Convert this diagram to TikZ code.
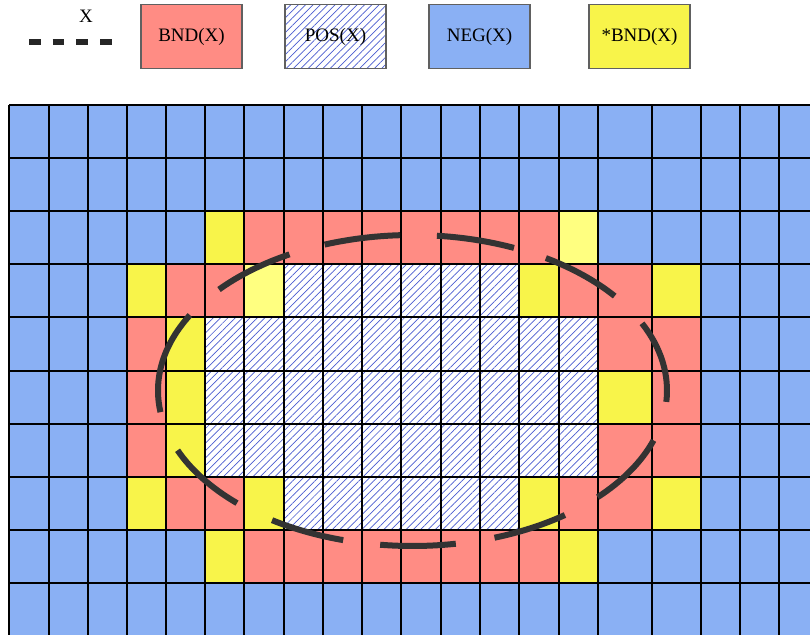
\documentclass[tikz,border=0pt]{standalone}
\usepackage{fontspec}
\setmainfont{Liberation Serif}
\usetikzlibrary{patterns.meta}
\definecolor{negblue}{HTML}{8AB0F4}
\definecolor{bndred}{HTML}{FF8C84}
\definecolor{bndyel}{HTML}{F8F44A}
\definecolor{lightyel}{HTML}{FFFF80}
\definecolor{hatchblue}{HTML}{4A5CD0}
\definecolor{boxgray}{HTML}{606060}
\def\XS{9,49,88,127,166,205,244,284,323,362,401,441,480,519,559,598,652,701,740,779,818}
\def\YS{105,158,211,264,317,371,424,477,530,583,636}
\newcommand\mycell[3]{%
  \pgfmathsetmacro\xa{{\XS}[#1]}\pgfmathsetmacro\xb{{\XS}[#1+1]}%
  \pgfmathsetmacro\ya{{\YS}[#2]}\pgfmathsetmacro\yb{{\YS}[#2+1]}%
  \path[#3] (\xa,\ya) rectangle (\xb,\yb);}
\tikzset{
  redcell/.style={fill=bndred},
  yelcell/.style={fill=bndyel},
  lyelcell/.style={fill=lightyel},
  hatchcell/.style={preaction={fill=white},pattern={Lines[angle=45,distance=5.2pt,line width=0.7pt]},pattern color=hatchblue},
  legbox/.style={draw=boxgray,line width=1.2pt,minimum width=101pt,minimum height=64pt,inner sep=0pt,font=\fontsize{19}{22}\selectfont},
  gridline/.style={line width=1.2pt,black},
  setx/.style={line width=6pt,black!80},
}
\begin{document}
\begin{tikzpicture}[x=1pt,y=-1pt]
\useasboundingbox (0,0) rectangle (810,634);
\clip (0,0) rectangle (810,634);
% legend
\node[font=\fontsize{19}{22}\selectfont] (xlab) at (86,16) {X};
\coordinate (lx1) at (29,42);
\coordinate (lx2) at (111.6,42);
\draw[line width=5.5pt,black!85,dash pattern=on 11.5pt off 12.2pt] (lx1) -- (lx2);
\node[legbox,fill=bndred] (lbnd) at (191.5,36.5) {BND(X)};
\node[legbox,hatchcell] (lpos) at (335.5,36.5) {POS(X)};
\node[legbox,fill=negblue] (lneg) at (479.5,36.5) {NEG(X)};
\node[legbox,fill=bndyel] (lsbnd) at (639.5,36.5) {*BND(X)};
% grid background
\fill[negblue] (9,105) rectangle (818,636);
% red cells
\foreach \c in {6,...,13} {\mycell{\c}{2}{redcell}\mycell{\c}{8}{redcell}}
\foreach \c/\r in {4/3,5/3,14/3,15/3,3/4,15/4,16/4,3/5,16/5,3/6,15/6,16/6,4/7,5/7,14/7,15/7} {\mycell{\c}{\r}{redcell}}
% yellow cells
\foreach \c/\r in {5/2,3/3,13/3,16/3,4/4,4/5,15/5,4/6,3/7,6/7,13/7,16/7,5/8,14/8} {\mycell{\c}{\r}{yelcell}}
\foreach \c/\r in {14/2,6/3} {\mycell{\c}{\r}{lyelcell}}
% hatched cells
\foreach \c in {7,...,12} {\mycell{\c}{3}{hatchcell}\mycell{\c}{7}{hatchcell}}
\foreach \r in {4,5,6} {\foreach \c in {5,...,14} {\mycell{\c}{\r}{hatchcell}}}
% grid lines
\foreach \x in \XS {\draw[gridline] (\x,105) -- (\x,636);}
\foreach \y in \YS {\draw[gridline] (9,\y) -- (818,\y);}
% set X : dashed ellipse
\coordinate (ec) at (412.5,390.5);
\foreach \s/\e in {220.5/241.1,249.8/267.2,275.5/293.5,301.6/322.6,334.4/364.2,18.7/43.3,53.2/71.2,80.2/97.3,105.8/123.5,133.6/157.4,172.0/209.0}
  {\draw[setx] (ec) ++(\s:254.5 and 155.5) arc[start angle=\s,end angle=\e,x radius=254.5,y radius=155.5];}
\end{tikzpicture}
\end{document}
